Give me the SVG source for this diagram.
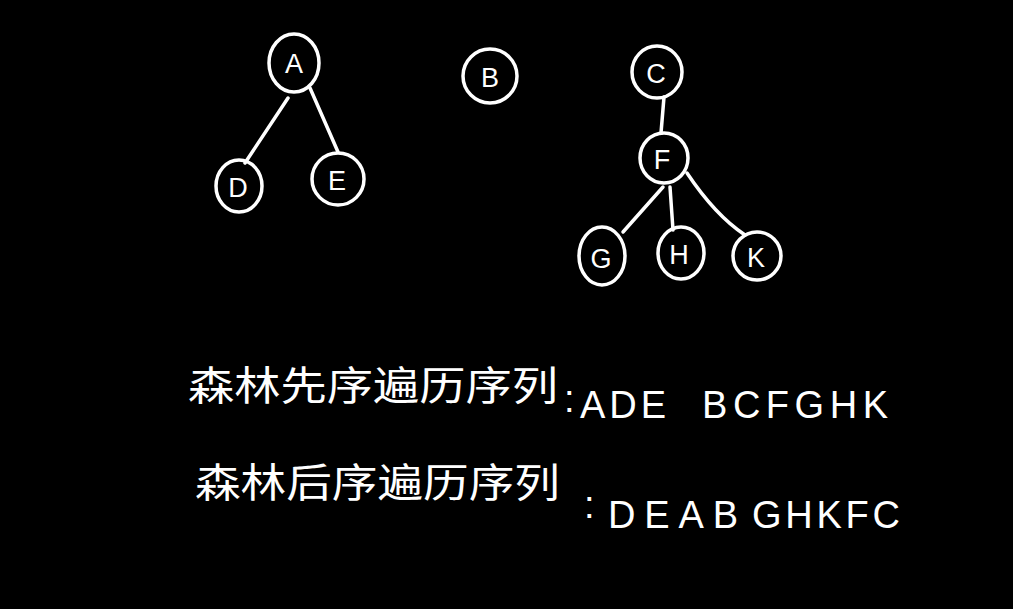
<svg xmlns="http://www.w3.org/2000/svg" width="1013" height="609" viewBox="0 0 1013 609">
<style>
.n{fill:none;stroke:#fff;stroke-width:3.5}
.l{font-family:"Liberation Sans","DejaVu Sans",sans-serif;font-size:27px;fill:#fff;text-anchor:middle;dominant-baseline:central}
.e{fill:none;stroke:#fff;stroke-width:3.5;stroke-linecap:round}
.t{font-family:"Noto Sans CJK SC","Noto Sans",sans-serif;fill:#fff;font-size:40px}
.s{font-family:"Liberation Sans","DejaVu Sans",sans-serif;fill:#fff;font-size:38px}
</style>
<rect width="1013" height="609" fill="#000"/>
<g id="connectors">
<path class="e" d="M288,98 L245,163"/>
<path class="e" d="M310,88 L338,152"/>
<path class="e" d="M664,97 L661,133"/>
<path class="e" d="M663,187 L623,232"/>
<path class="e" d="M670,187 L673,230"/>
<path class="e" d="M687,173 Q715,215 745,235"/>
</g>
<g id="node-A"><ellipse class="n" cx="294" cy="63" rx="25" ry="29"/><text class="l" x="294" y="64">A</text></g>
<g id="node-B"><ellipse class="n" cx="490" cy="76" rx="27" ry="27"/><text class="l" x="490" y="78">B</text></g>
<g id="node-C"><ellipse class="n" cx="657" cy="72" rx="25" ry="26"/><text class="l" x="656" y="74">C</text></g>
<g id="node-D"><ellipse class="n" cx="239" cy="186" rx="23" ry="26"/><text class="l" x="238" y="188">D</text></g>
<g id="node-E"><ellipse class="n" cx="338" cy="179" rx="26" ry="26"/><text class="l" x="337" y="181">E</text></g>
<g id="node-F"><ellipse class="n" cx="664" cy="158" rx="24" ry="25"/><text class="l" x="662" y="160">F</text></g>
<g id="node-G"><ellipse class="n" cx="602" cy="256" rx="23" ry="29"/><text class="l" x="601" y="259">G</text></g>
<g id="node-H"><ellipse class="n" cx="681" cy="253" rx="23" ry="26"/><text class="l" x="679" y="255">H</text></g>
<g id="node-K"><ellipse class="n" cx="757" cy="256" rx="24" ry="24"/><text class="l" x="756" y="258">K</text></g>
<g id="line1">
<text class="t" x="188" y="400" textLength="370" lengthAdjust="spacingAndGlyphs">森林先序遍历序列</text>
<text class="s" x="564" y="412">:</text>
<text class="s" x="580" y="418" textLength="86" lengthAdjust="spacing">ADE</text>
<text class="s" x="702" y="418" textLength="186" lengthAdjust="spacing">BCFGHK</text>
</g>
<g id="line2">
<text class="t" x="195" y="497" textLength="365" lengthAdjust="spacingAndGlyphs">森林后序遍历序列</text>
<text class="s" x="584" y="518">:</text>
<text class="s" x="608" y="528" textLength="130" lengthAdjust="spacing">DEAB</text>
<text class="s" x="752" y="528" textLength="148" lengthAdjust="spacing">GHKFC</text>
</g>
</svg>
